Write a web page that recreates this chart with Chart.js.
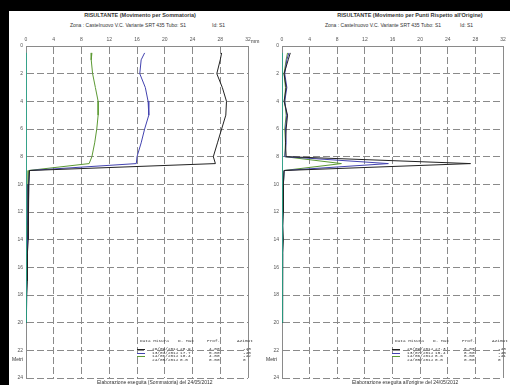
<!DOCTYPE html>
<html>
<head>
<meta charset="utf-8">
<meta name="color-scheme" content="only light">
<script src="https://cdn.jsdelivr.net/npm/chart.js@4/dist/chart.umd.min.js"></script>
<style>
  :root { color-scheme: only light; }
  html, body { margin: 0; padding: 0; background: #ffffff; }
  body { position: relative; width: 510px; height: 385px; overflow: hidden; font-family: "Liberation Sans", Arial, sans-serif; color: #333; }
  .page { position: absolute; left: 0; top: 0; width: 510px; height: 385px; background: #ffffff; }
  .bar { position: absolute; background: #000; }
  .txt { position: absolute; white-space: nowrap; line-height: 1; }
  .title { font-size: 5.5px; font-weight: bold; transform: translateX(-50%); }
  .sub { font-size: 5px; transform: translateX(-50%); }
  .small { font-size: 5px; }
  .mono { font-family: "Liberation Mono", "DejaVu Sans Mono", monospace; font-size: 4.4px; }
  .swatch { position: absolute; height: 0; border-top: 1px solid; width: 8px; }
  canvas { position: absolute; background: #ffffff; }
</style>
</head>
<body>
<div class="page"></div>
<canvas id="sumChart" width="250" height="355" style="left:9px;top:30px"></canvas>
<canvas id="pointChart" width="251" height="355" style="left:259px;top:30px"></canvas>

<div class="bar" style="left:0;top:0;width:510px;height:11px"></div>
<div class="bar" style="left:0;top:0;width:9px;height:385px"></div>

<div class="txt title" style="left:140px;top:13px">RISULTANTE (Movimento per Sommatoria)</div>
<div class="txt sub" style="left:128px;top:23px">Zona : Castelnuovo V.C. Variante SRT 435 Tubo: S1</div>
<div class="txt small" style="left:212px;top:23px">Id: S1</div>

<div class="txt title" style="left:410px;top:13px">RISULTANTE (Movimento per Punti Rispetto all'Origine)</div>
<div class="txt sub" style="left:383px;top:23px">Zona : Castelnuovo V.C. Variante SRT 435 Tubo: S1</div>
<div class="txt small" style="left:460px;top:23px">Id: S1</div>

<div class="txt small" style="left:251px;top:39px">mm</div>
<div class="txt small" style="left:12px;top:357px">Metri</div>
<div class="txt small" style="left:266px;top:357px">Metri</div>

<div class="txt small" style="left:97px;top:380px">Elaborazione eseguita (Sommatoria) del 24/05/2012</div>
<div class="txt small" style="left:352px;top:380px">Elaborazione eseguita all'origine del 24/05/2012</div>

<div id="legends"></div>

<script>
// depth of each reading (m)
const depths = [0.5, 1, 2, 3, 4, 5, 6, 7, 8, 8.5, 9, 10, 11, 12, 13, 14, 15, 16, 17, 18, 19, 20];

// cumulative displacement (mm)
const sumBlack = [28.2, 28.0, 27.5, 28.3, 28.9, 28.8, 28.2, 27.6, 27.0, 27.3, 0.5, 0.4, 0.4, 0.3, 0.3, 0.3, 0.2, 0.2, 0.2, 0.1, 0.1, 0.0];
const sumBlue = [17.1, 16.6, 16.4, 17.2, 17.6, 17.7, 17.1, 16.6, 16.0, 15.9, 0.5, 0.4, 0.3, 0.3, 0.3, 0.2, 0.2, 0.2, 0.1, 0.1, 0.1, 0.0];
const sumGreen = [9.5, 9.4, 9.6, 10.0, 10.4, 10.4, 10.2, 9.9, 9.5, 9.1, 0.4, 0.3, 0.3, 0.3, 0.2, 0.2, 0.2, 0.1, 0.1, 0.1, 0.0, 0.0];
const sumRef = [0, 0, 0, 0, 0, 0, 0, 0, 0, 0, 0, 0, 0, 0, 0, 0, 0, 0, 0, 0, 0, 0];

// displacement per point, relative to origin (mm)
const ptBlack = [1.2, 0.9, 0.3, 0.6, 0.3, 0.8, 0.6, 0.5, 0.6, 27.3, 0.3, 0.2, 0.2, 0.2, 0.1, 0.2, 0.1, 0.1, 0.1, 0.1, 0.1, 0.0];
const ptBlue = [1.0, 0.7, 0.4, 0.7, 0.4, 0.7, 0.5, 0.6, 0.4, 15.4, 0.3, 0.2, 0.2, 0.1, 0.1, 0.1, 0.1, 0.1, 0.1, 0.0, 0.0, 0.0];
const ptGreen = [0.8, 0.6, 0.3, 0.5, 0.4, 0.6, 0.4, 0.5, 0.4, 8.6, 0.3, 0.2, 0.1, 0.1, 0.1, 0.1, 0.1, 0.0, 0.0, 0.0, 0.0, 0.0];
const ptRef = [0, 0, 0, 0, 0, 0, 0, 0, 0, 0, 0, 0, 0, 0, 0, 0, 0, 0, 0, 0, 0, 0];

// readings
const dates = ['26/09/2012', '13/07/2012', '14/06/2012', '24/05/2012'];
const azimutSum = ['-43', '-45', '-42', '0'];
const azimutPt = ['-43', '-45', '-41', '0'];
const colors = ['#222222', '#4343b0', '#5c9a34', '#2aa58a'];

// axis ticks
const xTicks = [0, 4, 8, 12, 16, 20, 24, 28, 32];
const yTicks = [0, 2, 4, 6, 8, 10, 12, 14, 16, 18, 20, 22, 24];

const toPoints = vals => vals.map((v, i) => ({ x: v, y: depths[i] }));

// white canvas + solid frame on the right edge of the plot
const paper = {
  id: 'paper',
  beforeDraw(chart) {
    const { ctx, width, height } = chart;
    ctx.save();
    ctx.fillStyle = '#ffffff';
    ctx.fillRect(0, 0, width, height);
    ctx.restore();
  },
  afterDraw(chart) {
    const { ctx, chartArea: a } = chart;
    ctx.save();
    ctx.strokeStyle = '#8a8a8a';
    ctx.lineWidth = 1;
    ctx.beginPath();
    ctx.moveTo(Math.round(a.right) + 0.5, a.top);
    ctx.lineTo(Math.round(a.right) + 0.5, a.bottom);
    ctx.stroke();
    ctx.restore();
  }
};

function makeChart(id, series, yAxisWidth, padRight) {
  // reference dataset first so it is drawn on top
  const order = [3, 0, 1, 2];
  return new Chart(document.getElementById(id), {
    type: 'scatter',
    data: {
      datasets: order.map(k => ({
        data: toPoints(series[k]),
        showLine: true,
        borderColor: colors[k],
        backgroundColor: colors[k],
        borderWidth: 1,
        pointRadius: 0,
        tension: 0
      }))
    },
    options: {
      responsive: false,
      animation: false,
      layout: { padding: { left: 0, right: padRight, top: 0, bottom: 7 } },
      plugins: { legend: { display: false }, tooltip: { enabled: false } },
      scales: {
        x: {
          type: 'linear', position: 'top', min: 0, max: 32,
          afterBuildTicks: s => { s.ticks = xTicks.map(v => ({ value: v })); },
          afterFit: s => { s.height = 16; },
          grid: { color: '#8a8a8a', lineWidth: 1, drawTicks: false },
          border: { color: '#8a8a8a', dash: [7, 3] },
          ticks: { color: '#555', font: { size: 5, family: 'Liberation Sans' }, padding: 3, maxRotation: 0 }
        },
        y: {
          type: 'linear', reverse: true, min: 0, max: 24,
          afterBuildTicks: s => { s.ticks = yTicks.map(v => ({ value: v })); },
          afterFit: s => { s.width = yAxisWidth; },
          grid: { color: '#8a8a8a', lineWidth: 1, drawTicks: false },
          border: { color: '#8a8a8a', dash: [7, 3] },
          ticks: { color: '#555', font: { size: 5, family: 'Liberation Sans' }, padding: 3 }
        }
      }
    },
    plugins: [paper]
  });
}

const sumSeries = [sumBlack, sumBlue, sumGreen, sumRef];
const ptSeries = [ptBlack, ptBlue, ptGreen, ptRef];

makeChart('sumChart', sumSeries, 17, 11);
makeChart('pointChart', ptSeries, 23, 7);

// reading tables under each plot
function addText(parent, text, left, top) {
  const d = document.createElement('div');
  d.className = 'txt mono';
  d.style.left = left + 'px';
  d.style.top = top + 'px';
  d.textContent = text;
  parent.appendChild(d);
}

function buildTable(x0, series, azimut) {
  const box = document.getElementById('legends');
  const top = 339;
  addText(box, 'Data Misura', x0, top);
  addText(box, 'D. Max', x0 + 38, top);
  addText(box, 'Prof.', x0 + 67, top);
  addText(box, 'Azimut', x0 + 97, top);
  series.forEach((vals, k) => {
    const y = top + 8 + k * 3.6;
    let iMax = 0;
    vals.forEach((v, i) => { if (v > vals[iMax]) iMax = i; });
    if (k < 3) {
      const sw = document.createElement('div');
      sw.className = 'swatch';
      sw.style.left = (x0 - 3) + 'px';
      sw.style.top = (y + 2) + 'px';
      sw.style.borderColor = colors[k];
      box.appendChild(sw);
    }
    addText(box, dates[k], x0 + 12, y);
    addText(box, vals[iMax].toFixed(1), x0 + 40, y);
    addText(box, depths[iMax].toFixed(2), x0 + 69, y);
    addText(box, azimut[k], x0 + 103, y);
  });
}

buildTable(140, sumSeries, azimutSum);
buildTable(395, ptSeries, azimutPt);
</script>
</body>
</html>
